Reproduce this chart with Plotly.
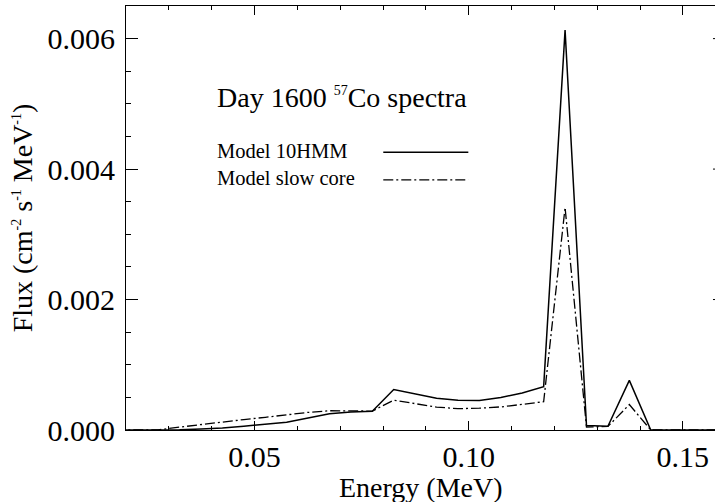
import plotly.graph_objects as go

# Energy grid (MeV)
energy = [0.0175, 0.0225, 0.0275, 0.0325, 0.0375, 0.0425, 0.0475, 0.0525, 0.0575,
          0.0625, 0.0675, 0.0725, 0.0775, 0.0825, 0.0875, 0.0925, 0.0975, 0.1025,
          0.1075, 0.1125, 0.1175, 0.1225, 0.1275, 0.1325, 0.1375, 0.1425, 0.1475,
          0.1525, 0.1575, 0.1625]

# Model 10HMM flux (cm^-2 s^-1 MeV^-1)
flux_10hmm = [0.0, 0.0, 0.0, 0.000003, 0.000015, 0.00003, 0.000057, 0.000084, 0.00012,
              0.000184, 0.000250, 0.000276, 0.000288, 0.000621, 0.000548, 0.000486,
              0.000456, 0.000452, 0.000498, 0.000567, 0.000663, 0.00613, 0.00007,
              0.000058, 0.00076, 0.0, 0.0, 0.0, 0.0, 0.0]

# Model slow core flux
flux_slow = [0.0, 0.0, 0.000003, 0.000044, 0.000086, 0.000124, 0.00016, 0.000195,
             0.000232, 0.00027, 0.000295, 0.000294, 0.000290, 0.000457, 0.000403,
             0.000351, 0.000327, 0.000334, 0.000354, 0.000391, 0.000433, 0.00341,
             0.000046, 0.000054, 0.00039, 0.0, 0.0, 0.0, 0.0, 0.0]

x_ticks = [0.05, 0.10, 0.15]
x_tick_labels = ["0.05", "0.10", "0.15"]
y_ticks = [0.0, 0.002, 0.004, 0.006]
y_tick_labels = ["0.000", "0.002", "0.004", "0.006"]

FONT = "Liberation Serif"
DASHDOT = "10px,3px,2px,3px"


def f(size):
    return dict(family=FONT, size=size, color="black")


def sup(t, px=14):
    return "<sup><span style='font-size:%dpx'>%s</span></sup>" % (px, t)


fig = go.Figure()
fig.add_trace(go.Scatter(x=energy, y=flux_10hmm, mode="lines",
                         line=dict(color="black", width=1.5), name="Model 10HMM",
                         showlegend=False, hoverinfo="skip"))
fig.add_trace(go.Scatter(x=energy, y=flux_slow, mode="lines",
                         line=dict(color="black", width=1.3, dash=DASHDOT),
                         name="Model slow core", showlegend=False, hoverinfo="skip"))

fig.update_layout(
    width=715, height=502,
    margin=dict(l=126, r=0, t=6, b=72),
    paper_bgcolor="white", plot_bgcolor="white",
    font=f(30),
    xaxis=dict(range=[0.02, 0.1575], tickvals=x_ticks, ticktext=x_tick_labels,
               ticks="inside", ticklen=9, tickcolor="black", tickwidth=1,
               minor=dict(dtick=0.01, tick0=0.0, ticks="inside", ticklen=4,
                          tickcolor="black", tickwidth=1, showgrid=False),
               showline=True, linecolor="black", linewidth=1, mirror="allticks",
               showgrid=False, zeroline=False, tickfont=f(30)),
    yaxis=dict(range=[0, 0.0065], tickvals=y_ticks, ticktext=y_tick_labels,
               ticks="inside", ticklen=12, tickcolor="black", tickwidth=1,
               minor=dict(dtick=0.0005, tick0=0.0, ticks="inside", ticklen=5,
                          tickcolor="black", tickwidth=1, showgrid=False),
               showline=True, linecolor="black", linewidth=1, mirror=False,
               showgrid=False, zeroline=False, tickfont=f(30), ticklabelstandoff=4),
)

# Axis titles
fig.add_annotation(xref="paper", yref="paper", x=0.5, y=-0.135, xanchor="center",
                   yanchor="middle", showarrow=False, text="Energy (MeV)", font=f(28))
fig.add_annotation(xref="paper", yref="paper", x=-0.176, y=0.5, xanchor="center",
                   yanchor="middle", showarrow=False, textangle=-90,
                   text="Flux (cm" + sup("-2") + " s" + sup("-1") + " MeV" + sup("-1") + ")",
                   font=f(28))

# Right-edge stubs of the (cropped) right axis major ticks
for yv in y_ticks[1:]:
    fig.add_shape(type="line", xref="paper", yref="y", x0=0.9966, x1=1.0, y0=yv, y1=yv,
                  line=dict(color="black", width=1))

# In-plot title and legend
fig.add_annotation(xref="paper", yref="paper", x=0.151, y=0.785, xanchor="left",
                   yanchor="middle", showarrow=False,
                   text="Day 1600 " + sup("57", 14) + "Co spectra", font=f(28))
fig.add_annotation(xref="paper", yref="paper", x=0.151, y=0.659, xanchor="left",
                   yanchor="middle", showarrow=False, text="Model 10HMM",
                   font=f(20.5))
fig.add_annotation(xref="paper", yref="paper", x=0.151, y=0.594, xanchor="left",
                   yanchor="middle", showarrow=False, text="Model slow core",
                   font=f(20.5))
fig.add_shape(type="line", xref="paper", yref="paper", x0=0.4368, x1=0.5812,
              y0=0.655, y1=0.655, line=dict(color="black", width=1.5))
fig.add_shape(type="line", xref="paper", yref="paper", x0=0.4368, x1=0.5812,
              y0=0.590, y1=0.590, line=dict(color="black", width=1.3, dash=DASHDOT))

fig.write_html("out.html", config={"displayModeBar": False},
               post_script="document.body.style.margin='0';document.body.style.overflow='hidden';")
